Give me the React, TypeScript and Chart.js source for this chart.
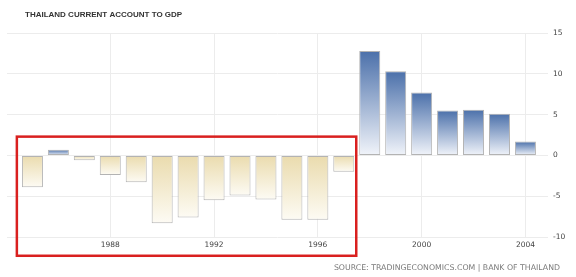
import React, { useEffect, useRef } from "react";
import { Chart, registerables } from "chart.js";

Chart.register(...registerables);

const years = [1985, 1986, 1987, 1988, 1989, 1990, 1991, 1992, 1993, 1994, 1995, 1996, 1997, 1998, 1999, 2000, 2001, 2002, 2003, 2004];
const currentAccountToGdp = [-3.9, 0.7, -0.6, -2.4, -3.3, -8.3, -7.6, -5.5, -4.9, -5.4, -7.9, -7.9, -2.0, 12.8, 10.3, 7.7, 5.5, 5.6, 5.1, 1.7];
const yTicks = [-10, -5, 0, 5, 10, 15];
const xTickYears = [1988, 1992, 1996, 2000, 2004];
// highlight box bounds in data units: [xFrom, xTo, yTop, yBottom]
const highlightBox = [1984.4, 1997.48, 2.3, -12.3];

const TITLE = "THAILAND CURRENT ACCOUNT TO GDP";
const SOURCE = "SOURCE: TRADINGECONOMICS.COM | BANK OF THAILAND";
const FONT = "'DejaVu Sans', 'Liberation Sans', sans-serif";

export default function App() {
  const ref = useRef<HTMLCanvasElement | null>(null);

  useEffect(() => {
    const canvas = ref.current;
    if (!canvas) return;

    const overlay = {
      id: "overlay",
      afterDraw(chart: any) {
        const c = chart.ctx;
        const xs = chart.scales.x;
        const ys = chart.scales.y;
        c.save();
        // title
        c.fillStyle = "#333333";
        c.font = `bold 8px 'Liberation Sans', Arial, sans-serif`;
        c.textBaseline = "middle";
        c.textAlign = "left";
        c.fillText(TITLE, 25, 15);
        // source
        c.fillStyle = "#7a7a7a";
        c.font = `7.8px ${FONT}`;
        c.textAlign = "right";
        c.fillText(SOURCE, 560, 268);
        // highlight box
        const l = xs.getPixelForValue(highlightBox[0]);
        const r = xs.getPixelForValue(highlightBox[1]);
        const t = ys.getPixelForValue(highlightBox[2]);
        const b = ys.getPixelForValue(highlightBox[3]);
        c.strokeStyle = "#d9201f";
        c.lineWidth = 2.5;
        c.strokeRect(l, t, r - l, b - t);
        c.restore();
      },
    };

    const chart = new Chart(canvas, {
      type: "bar",
      data: {
        datasets: [
          {
            data: years.map((x, i) => ({ x, y: currentAccountToGdp[i] })),
            backgroundColor: (ctx: any) => {
              const ch = ctx.chart;
              if (!ch.chartArea) return "#ccc";
              const ys = ch.scales.y;
              const v = ctx.raw ? ctx.raw.y : 0;
              const p0 = ys.getPixelForValue(0);
              const pv = ys.getPixelForValue(v);
              const g = ch.ctx.createLinearGradient(0, Math.min(p0, pv), 0, Math.max(p0, pv) + 0.01);
              if (v >= 0) {
                g.addColorStop(0, "#4b70aa");
                g.addColorStop(1, "#f1f4fa");
              } else {
                g.addColorStop(0, "#eadbad");
                g.addColorStop(1, "#fdfbf4");
              }
              return g;
            },
            borderColor: "#b3b3b3",
            borderWidth: 1,
            borderSkipped: false,
            categoryPercentage: 1,
            barPercentage: 0.81,
          } as any,
        ],
      },
      options: {
        animation: false,
        responsive: false,
        devicePixelRatio: 1,
        layout: { padding: { top: 33, left: 7, right: 0, bottom: 26 } },
        plugins: {
          legend: { display: false },
          tooltip: { enabled: false },
          title: { display: false },
        },
        scales: {
          x: {
            type: "linear",
            offset: false,
            min: 1984.02,
            max: 2004.87,
            afterBuildTicks: (scale: any) => {
              scale.ticks = xTickYears.map((v) => ({ value: v }));
            },
            afterFit: (scale: any) => {
              scale.height = 14;
            },
            ticks: {
              includeBounds: false,
              callback: (v: any) => String(v),
              color: "#444",
              font: { family: FONT, size: 7.5 },
              padding: 4,
              maxRotation: 0,
            },
            grid: { color: "#ececec", drawTicks: false, offset: false },
            border: { display: false },
          },
          y: {
            position: "right",
            min: -10,
            max: 15,
            afterBuildTicks: (scale: any) => {
              scale.ticks = yTicks.map((v) => ({ value: v }));
            },
            afterFit: (scale: any) => {
              scale.width = 28;
            },
            ticks: {
              color: "#444",
              font: { family: FONT, size: 7.5 },
              padding: 5,
            },
            grid: { color: "#ececec", drawTicks: false },
            border: { display: false },
          },
        },
      } as any,
      plugins: [overlay],
    });

    return () => chart.destroy();
  }, []);

  return (
    <div style={{ position: "fixed", left: 0, top: 0, width: 576, height: 277, background: "#fff" }}>
      <canvas ref={ref} width={576} height={277} style={{ width: 576, height: 277, display: "block" }} />
    </div>
  );
}
